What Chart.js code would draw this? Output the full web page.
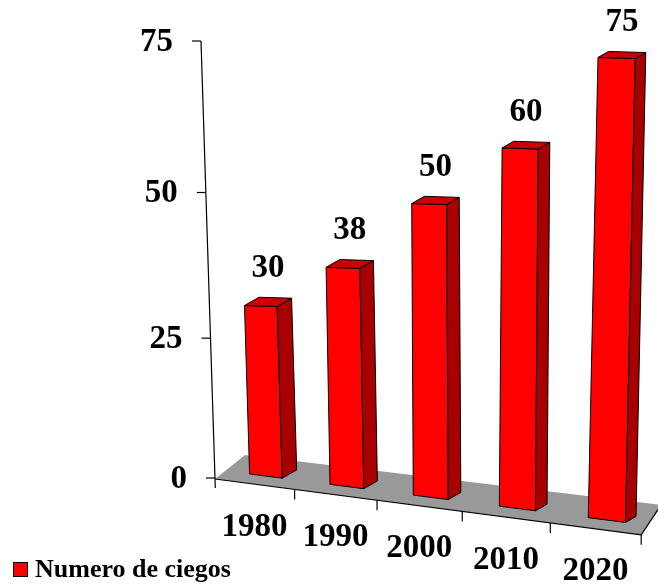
<!DOCTYPE html>
<html>
<head>
<meta charset="utf-8">
<script src="https://cdn.jsdelivr.net/npm/chart.js@4"></script>
<style>
  html, body { margin: 0; padding: 0; background: #fff; }
  #wrap { width: 658px; height: 584px; position: relative; }
</style>
</head>
<body>
<div id="wrap"><canvas id="ciegosChart"></canvas></div>
<script>
const years = ['1980', '1990', '2000', '2010', '2020'];
const ciegos = [30, 38, 50, 60, 75];
const yTicks = [0, 25, 50, 75];
const seriesName = 'Numero de ciegos';

const FONT = '"Liberation Serif", "Times New Roman", serif';

// fake perspective: categories get wider and bars taller towards the right
function warp(k) { return k + 0.018 * k * k; }
function heightScale(k) { return 0.967 + 0.0106 * k + 0.0021 * k * k; }

function poly(ctx, pts, fill) {
    ctx.beginPath();
    ctx.moveTo(pts[0][0], pts[0][1]);
    pts.slice(1).forEach(p => ctx.lineTo(p[0], p[1]));
    ctx.closePath();
    ctx.fillStyle = fill;
    ctx.fill();
    ctx.stroke();
}

const bars3d = {
    id: 'bars3d',
    beforeDatasetsDraw() { return false; },   // flat bars are replaced by the 3D boxes below
    afterDraw(chart) {
        const ctx = chart.ctx;
        const { left: L, right: R, top: T, bottom: B } = chart.chartArea;
        const H = B - T;
        const unit = (R - L) / years.length;
        const xScale = chart.scales.x;
        const yScale = chart.scales.y;
        const ds = chart.data.datasets[0];
        const meta = chart.getDatasetMeta(0);

        const kOf = px => (px - L) / unit;
        const frontX = k => L + unit * warp(k);
        const frontY = x => B + 1 + 0.131 * (x - L);
        const planeX = k => L + 11.4 + unit * warp(k);
        const ground = x => B - 8.5 + 0.129 * (x - L);

        ctx.save();

        // grey floor
        const fr = frontX(years.length);
        ctx.fillStyle = '#999999';
        ctx.beginPath();
        ctx.moveTo(L, B + 1);
        ctx.lineTo(L + 30, B - 23);
        ctx.lineTo(fr + 20, frontY(fr) - 30);
        ctx.lineTo(fr, frontY(fr));
        ctx.closePath();
        ctx.fill();

        ctx.strokeStyle = '#000';
        ctx.lineWidth = 1.2;
        ctx.beginPath();
        ctx.moveTo(L, B + 1);
        ctx.lineTo(fr, frontY(fr));
        ctx.lineTo(fr + 20, frontY(fr) - 30);
        ctx.stroke();

        // category separators under the front edge
        for (let k = 1; k <= years.length; k++) {
            const x = frontX(k);
            ctx.beginPath();
            ctx.moveTo(x, frontY(x));
            ctx.lineTo(x, frontY(x) + 10);
            ctx.stroke();
        }

        // value axis, leaning slightly to the left
        const wallY = py => B - (B - py) * (0.94 + 0.06 * (B - py) / H);
        const axisX = y => L - 14 * (B - y) / H;
        ctx.beginPath();
        ctx.moveTo(axisX(T), T);
        ctx.lineTo(L + 0.3, B + 10);
        ctx.stroke();

        ctx.font = 'bold 33px ' + FONT;
        ctx.fillStyle = '#000';
        ctx.textAlign = 'right';
        ctx.textBaseline = 'middle';
        yScale.ticks.forEach(t => {
            const y = wallY(yScale.getPixelForValue(t.value));
            const x = axisX(y);
            ctx.beginPath();
            ctx.moveTo(x - 9, y);
            ctx.lineTo(x, y);
            ctx.stroke();
            ctx.fillText(t.label, x - 28, y + 1);
        });

        // years along the front edge
        ctx.textAlign = 'center';
        years.forEach((yr, i) => {
            const x = frontX(kOf(xScale.getPixelForValue(i)));
            ctx.fillText(yr, x, frontY(x) + 43);
        });

        // bars
        ctx.lineWidth = 1;
        meta.data.forEach((el, i) => {
            const hw = el.width / 2;
            const kC = kOf(el.x), kL = kOf(el.x - hw), kR = kOf(el.x + hw);
            const xl = planeX(kL), xr = planeX(kR), xc = planeX(kC);
            const h = (B - yScale.getPixelForValue(ds.data[i])) * heightScale(kC);
            const lean = 0.00015 * (xc - L - 251) * h;
            const yt = ground(xc) - h;
            const tilt = 0.015 * (xr - xl);
            const t = (xc - L - 48) / 347;
            const dx = 14.5 - 4 * t, dy = -8.3 + 2.3 * t;

            const bl = [xl, ground(xl)], br = [xr, ground(xr)];
            const tl = [xl + lean, yt - tilt], tr = [xr + lean, yt + tilt];
            const back = p => [p[0] + dx, p[1] + dy];

            poly(ctx, [bl, br, tr, tl], ds.backgroundColor);
            poly(ctx, [br, back(br), back(tr), tr], '#a80000');
            poly(ctx, [tl, tr, back(tr), back(tl)], '#cc0000');

            ctx.fillStyle = '#000';
            ctx.fillText(String(ds.data[i]), (tl[0] + tr[0]) / 2 + dx / 2, yt + dy / 2 - 33);
        });

        // legend
        ctx.fillStyle = ds.backgroundColor;
        ctx.fillRect(13, 562, 15, 15);
        ctx.strokeRect(13.5, 562.5, 14, 14);
        ctx.fillStyle = '#000';
        ctx.textAlign = 'left';
        ctx.textBaseline = 'alphabetic';
        ctx.font = 'bold 26px ' + FONT;
        ctx.fillText(ds.label, 35, 577);

        ctx.restore();
    }
};

new Chart(document.getElementById('ciegosChart'), {
    type: 'bar',
    data: {
        labels: years,
        datasets: [{
            label: seriesName,
            data: ciegos,
            backgroundColor: '#ff0000',
            borderColor: '#000',
            borderWidth: 1,
            barPercentage: 0.41,
            categoryPercentage: 1
        }]
    },
    options: {
        responsive: true,
        maintainAspectRatio: false,
        animation: false,
        layout: { padding: { left: 215, right: 52, top: 41, bottom: 106 } },
        plugins: {
            legend: { display: false },
            tooltip: { enabled: false }
        },
        scales: {
            x: { display: false },
            y: {
                display: false,
                min: yTicks[0],
                max: yTicks[yTicks.length - 1],
                ticks: { stepSize: yTicks[1] - yTicks[0] }
            }
        }
    },
    plugins: [bars3d]
});
</script>
</body>
</html>
